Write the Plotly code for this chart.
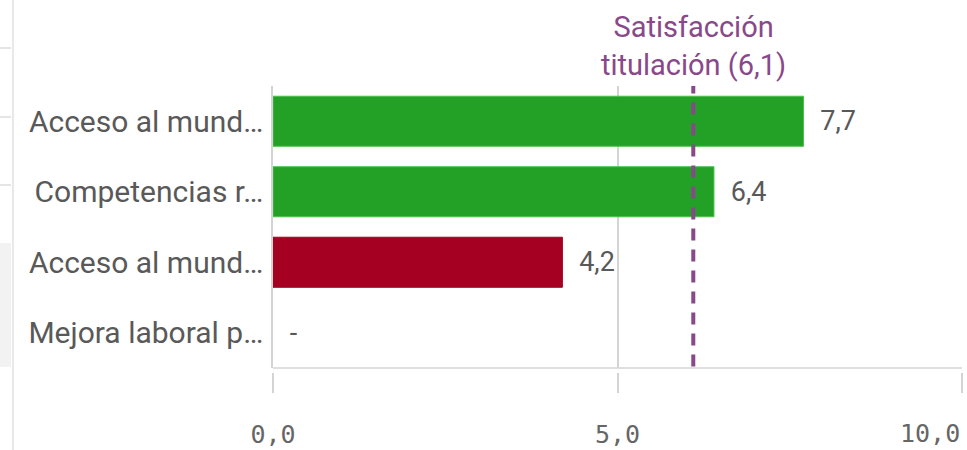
import plotly.graph_objects as go

# Chart data
categories = ["Acceso al mund…", "Competencias r…", "Acceso al mund…", "Mejora laboral p…"]
scores = [7.7, 6.4, 4.2, None]
satisfaction = 6.1
x_ticks = [0, 5, 10]
x_tick_labels = ["0,0", "5,0", "10,0"]

W, H = 967, 450
M_L, M_R, M_T, M_B = 273, 5, 86, 78
PLOT_W = W - M_L - M_R
PLOT_H = H - M_T - M_B

GREEN = "#22A126"
GREEN_EDGE = "#4cc04c"
RED = "#A50021"
PURPLE = "#88488A"
GRID = "#d4d4d4"
TEXT = "#595959"
AXIS_TEXT = "#666666"
AXIS_FONT = dict(family="DejaVu Sans Mono", size=25, color=AXIS_TEXT)
NONE_COLOR = "rgba(0,0,0,0)"


def fmt(v):
    return "-" if v is None else f"{v:.1f}".replace(".", ",")


def px_x(p):
    return (p - M_L) / PLOT_W


def px_y(p):
    return (H - M_B - p) / PLOT_H


bar_x = [0 if v is None else v for v in scores]
bar_colors, edge_colors = [], []
for v in scores:
    if v is None:
        bar_colors.append(NONE_COLOR)
        edge_colors.append(NONE_COLOR)
    elif v >= satisfaction:
        bar_colors.append(GREEN)
        edge_colors.append(GREEN_EDGE)
    else:
        bar_colors.append(RED)
        edge_colors.append(RED)
bar_text = ["\u2002" + fmt(v) for v in scores]
positions = list(range(len(categories)))

fig = go.Figure(
    go.Bar(
        x=bar_x,
        y=positions,
        orientation="h",
        marker=dict(color=bar_colors, line=dict(width=1, color=edge_colors)),
        text=bar_text,
        textposition="outside",
        textfont=dict(family="Roboto", size=27, color=TEXT),
        cliponaxis=False,
        constraintext="none",
        hoverinfo="skip",
    )
)

# Reference line for overall satisfaction
fig.add_shape(
    type="line", xref="x", yref="y domain",
    x0=satisfaction, x1=satisfaction, y0=0.005, y1=1,
    line=dict(color=PURPLE, width=4, dash="12px,9px"),
)
fig.add_annotation(
    x=satisfaction, xref="x", y=1, yref="paper", yanchor="bottom",
    text=f"Satisfacción<br>titulación ({fmt(satisfaction)})",
    showarrow=False, yshift=2,
    font=dict(family="Roboto", size=29, color=PURPLE),
)

# Last axis label sits flush with the right end of the axis
fig.add_annotation(
    x=x_ticks[-1], xref="x", y=0, yref="paper",
    xanchor="right", yanchor="top", yshift=-45,
    text=x_tick_labels[-1], showarrow=False, font=AXIS_FONT,
)

# Bottom frame line of the plot area
fig.add_shape(
    type="line", xref="x domain", yref="y domain",
    x0=0, x1=1, y0=0, y1=0,
    line=dict(color=GRID, width=1.5),
)

# Side panel edges of the surrounding page
fig.add_shape(type="line", xref="paper", yref="paper",
              x0=px_x(13), x1=px_x(13), y0=px_y(0), y1=px_y(450),
              line=dict(color="#e2e2e2", width=1.5), layer="below")
for yy in (48, 117, 185):
    fig.add_shape(type="line", xref="paper", yref="paper",
                  x0=px_x(0), x1=px_x(11), y0=px_y(yy), y1=px_y(yy),
                  line=dict(color="#dddddd", width=1.5), layer="below")
fig.add_shape(type="rect", xref="paper", yref="paper",
              x0=px_x(0), x1=px_x(11), y0=px_y(243), y1=px_y(367),
              fillcolor="#f2f2f2", line=dict(width=0), layer="below")

fig.update_layout(
    width=W, height=H,
    margin=dict(l=M_L, r=M_R, t=M_T, b=M_B, autoexpand=False),
    paper_bgcolor="white", plot_bgcolor="white",
    separators=",.",
    showlegend=False,
    bargap=0.29,
    xaxis=dict(
        range=[0, 10],
        anchor="free", position=0,
        automargin=False,
        tickvals=x_ticks,
        ticktext=x_tick_labels[:-1] + [""],
        showgrid=True, gridcolor=GRID, gridwidth=1.5,
        zeroline=False, showline=False,
        ticks="outside", ticklen=20, tickwidth=1.5, tickcolor=GRID,
        ticklabelstandoff=20,
        tickfont=AXIS_FONT,
        fixedrange=True,
    ),
    yaxis=dict(
        domain=[4 / PLOT_H, 1],
        range=[len(categories) - 0.5, -0.5],
        automargin=False,
        tickvals=positions,
        ticktext=categories,
        showgrid=False, zeroline=False,
        showline=True, linecolor=GRID, linewidth=1.5,
        ticks="", ticklabelstandoff=2,
        tickfont=dict(family="Roboto", size=30, color=TEXT),
        fixedrange=True,
    ),
)

fig.write_html("out.html", config={"displayModeBar": False})
